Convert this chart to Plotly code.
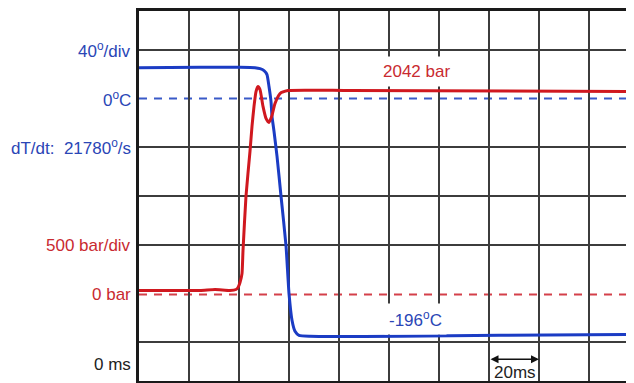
import plotly.graph_objects as go

# time axis in ms (20 ms / div)
time_T = [0, 24.4, 40.4, 46.4, 48.4, 50.0, 51.2, 52.0, 52.8, 53.2, 54.0, 55.2, 56.8, 58.8,
          60.0, 61.2, 62.4, 64.0, 68.4, 104.4, 144.4, 198]
temp_C = [25.3, 25.7, 25.7, 25.3, 24.5, 22.9, 19.6, 9.8, -2.4, -14.7, -26.9, -47.3, -80, -120.8,
          -160, -182, -191, -194.3, -195.1, -195.1, -194.3, -193.5]

time_P = [0, 24.4, 30.4, 36.4, 38.8, 39.6, 40.4, 41.2, 41.6, 42.8, 44.4, 45.2, 46.0, 46.8, 47.6,
          48.4, 49.6, 50.8, 52.0, 53.2, 54.4, 56.4, 59.6, 84.4, 198]
press_bar = [41, 41, 51, 41, 51, 71, 122, 214, 449, 1010, 1469, 1724, 1929, 2082, 2133,
             2102, 1929, 1806, 1765, 1837, 1959, 2061, 2092, 2092, 2082]

time_grid = [20, 40, 60, 80, 100, 120, 140, 160, 180]
temp_grid = [40, -40, -80, -120, -200]

BLUE = "#1b3cc4"
BLUE_TXT = "#2a46b6"
RED = "#d0181f"
RED_TXT = "#c92a30"
FONT = "Liberation Sans, Arial, sans-serif"

fig = go.Figure()
fig.add_trace(go.Scatter(x=time_T, y=temp_C, mode="lines", yaxis="y",
                         line=dict(color=BLUE, width=3, shape="spline", smoothing=0.5),
                         hoverinfo="skip", showlegend=False))
fig.add_trace(go.Scatter(x=time_P, y=press_bar, mode="lines", yaxis="y2",
                         line=dict(color=RED, width=3, shape="spline", smoothing=0.5),
                         hoverinfo="skip", showlegend=False))

# zero reference lines
fig.add_shape(type="line", xref="paper", x0=0, x1=1, yref="y", y0=0, y1=0,
              line=dict(color="#3a5ac8", width=2, dash="8px,7px"), layer="between")
fig.add_shape(type="line", xref="paper", x0=0, x1=1, yref="y2", y0=0, y1=0,
              line=dict(color="#d4404a", width=2, dash="8px,7px"), layer="between")

ann = []
def lab(text, y, yref, color):
    ann.append(dict(text=text, xref="paper", x=0, xanchor="right", xshift=-6,
                    yref=yref, y=y, yanchor="middle", showarrow=False,
                    font=dict(family=FONT, size=17, color=color)))

lab("40<sup>o</sup>/div", 40, "y", BLUE_TXT)
lab("0<sup>o</sup>C", 0, "y", BLUE_TXT)
lab("dT/dt:&nbsp; 21780<sup>o</sup>/s", -40, "y", BLUE_TXT)
lab("500 bar/div", 500, "y2", RED_TXT)
lab("0 bar", 0, "y2", RED_TXT)
lab("0 ms", -218, "y", "#222222")

ann.append(dict(text="2042 bar", x=110.8, y=22, xref="x", yref="y", showarrow=False,
                bgcolor="white", borderpad=5, yanchor="middle",
                font=dict(family=FONT, size=17, color=RED_TXT)))
ann.append(dict(text="-196<sup>o</sup>C", x=110.4, y=-181, xref="x", yref="y", showarrow=False,
                bgcolor="white", borderpad=4, yanchor="middle",
                font=dict(family=FONT, size=17, color=BLUE_TXT)))
ann.append(dict(text="20ms", x=150.4, y=-224.5, xref="x", yref="y", showarrow=False,
                yanchor="middle", font=dict(family=FONT, size=17, color="#222222")))
ann.append(dict(text="", x=160, y=-214, xref="x", yref="y", ax=140, ay=-214,
                axref="x", ayref="y", showarrow=True, arrowhead=2, arrowside="end+start",
                arrowsize=1, arrowwidth=1.6, arrowcolor="#111111", standoff=0, startstandoff=0))

# page body has an 8px margin: size the figure so the plot area lands at 139..634 x 9..381
fig.update_layout(
    width=626, height=375, autosize=False,
    margin=dict(l=131, r=0, t=1, b=2),
    paper_bgcolor="white", plot_bgcolor="white",
    xaxis=dict(range=[0, 198], showticklabels=False, ticks="", zeroline=False,
               tickvals=time_grid, showgrid=True, gridcolor="#3c3c3c", gridwidth=2,
               showline=True, mirror=True, linecolor="#1a1a1a", linewidth=3),
    yaxis=dict(range=[-231.8, 71.8], showticklabels=False, ticks="", zeroline=False,
               tickvals=temp_grid, showgrid=True, gridcolor="#3c3c3c", gridwidth=2,
               showline=True, mirror=False, linecolor="#1a1a1a", linewidth=2.5),
    yaxis2=dict(range=[-888, 2908], overlaying="y", showticklabels=False, ticks="",
                zeroline=False, showgrid=False, showline=False),
    annotations=ann,
)

fig.write_html("out.html")
